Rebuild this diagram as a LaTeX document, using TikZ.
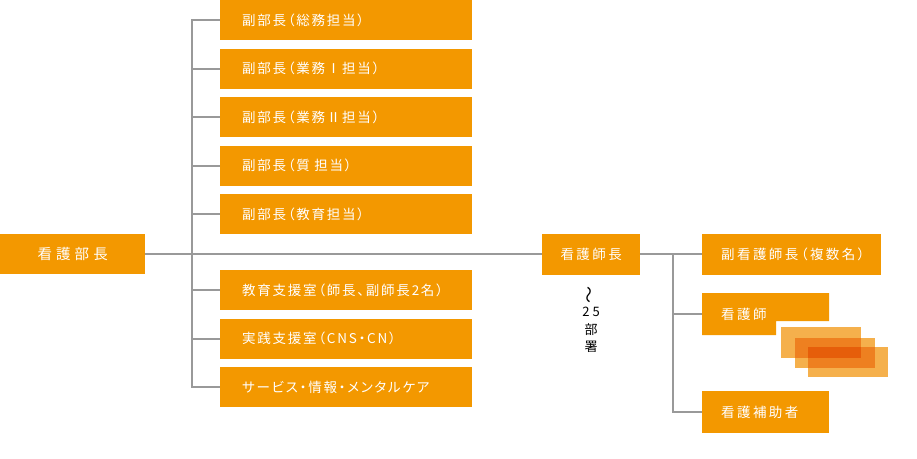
\documentclass[tikz,border=0pt]{standalone}
\usepackage{fontspec}
\newfontfamily\jp{Noto Sans CJK JP}[LetterSpace=18,RawFeature=+palt]
\newfontfamily\jpA{Noto Sans CJK JP}[LetterSpace=13,RawFeature=+palt]
\newfontfamily\jpC{Noto Sans CJK JP}[LetterSpace=28]
\newfontfamily\jpD{Noto Sans CJK JP}
\definecolor{org}{HTML}{F39800}
\definecolor{lineg}{HTML}{999999}
\definecolor{stL}{HTML}{F5B04C}
\definecolor{stD}{HTML}{EE8020}
\definecolor{stT}{HTML}{E65E0A}
\tikzset{
  box/.style={fill=org, text=white, inner ysep=0pt, anchor=north west, minimum height=40pt},
  colbox/.style={box, inner xsep=22pt, text width=208pt, align=left, font=\jpA\fontsize{13.5pt}{15pt}\selectfont},
  rbox/.style={box, inner xsep=19pt, align=left, font=\jp\fontsize{13.5pt}{15pt}\selectfont},
  link/.style={draw=lineg, line width=1.6pt},
  blk/.style={text=black, inner sep=0pt, font=\jpD\fontsize{13pt}{14pt}\selectfont}
}
\begin{document}
\begin{tikzpicture}[x=1pt,y=-1pt]
\useasboundingbox (0,0) rectangle (917,458);
% left head
\node[box, minimum width=145pt, inner xsep=0pt, align=center, font=\jpC\fontsize{14.5pt}{16pt}\selectfont] (bucho) at (0,234) {看護部長};
% column
\node[colbox] (b1) at (220,0) {副部長（総務担当）};
\node[colbox] (b2) at (220,48.5) {副部長（業務Ⅰ担当）};
\node[colbox] (b3) at (220,97) {副部長（業務Ⅱ担当）};
\node[colbox] (b4) at (220,145.5) {副部長（質 担当）};
\node[colbox] (b5) at (220,194) {副部長（教育担当）};
\node[colbox] (b6) at (220,270) {教育支援室（師長、副師長2名）};
\node[colbox] (b7) at (220,318.5) {実践支援室（CNS・CN）};
\node[colbox] (b8) at (220,367) {サービス・情報・メンタルケア};
% shicho
\node[box, minimum width=98pt, minimum height=41pt, inner xsep=0pt, align=center, font=\jp\fontsize{13.5pt}{15pt}\selectfont] (shicho) at (542,233.5) {看護師長};
\node[blk, rotate=90, font=\jpD\fontsize{17pt}{17pt}\selectfont] (tilde) at (591,295) {～};
\node[blk] (n25) at (591,312) {2\hspace{3pt}5};
\node[blk] (nbu) at (591,329.5) {部};
\node[blk] (nsho) at (591,347) {署};
% right
\node[rbox, minimum width=179pt, minimum height=41pt, text width=141pt] (fuku) at (702,233.5) {副看護師長（複数名）};
\fill[org] (702,293) -- (829,293) -- (829,321) -- (776,321) -- (776,335) -- (702,335) -- cycle;
\node[rbox, fill=none, minimum width=127pt, minimum height=42pt, text width=89pt] (kangoshi) at (702,293) {看護師};
\node[rbox, minimum width=127pt, minimum height=42pt, text width=89pt] (hojo) at (702,391) {看護補助者};
% stacked
\fill[stL] (781,327) rectangle (861,358);
\fill[stL] (795,338) rectangle (875,368);
\fill[stL] (808,347) rectangle (888,377);
\fill[stD] (795,338) rectangle (861,358);
\fill[stD] (808,347) rectangle (875,368);
\fill[stT] (808,347) rectangle (861,358);
% connectors
\draw[link] (bucho.east) -- (shicho.west);
\draw[link] (b1.west) -- ++(-28,0) coordinate (t1) |- (b8.west);
\foreach \n in {b2,b3,b4,b5,b6,b7} \draw[link] (\n.west) -- ++(-28,0);
\draw[link] (shicho.east) -- (fuku.west);
\draw[link] (fuku.west) -- ++(-29,0) coordinate (t2) |- (hojo.west);
\draw[link] (kangoshi.west) -- ++(-29,0);
\end{tikzpicture}
\end{document}
